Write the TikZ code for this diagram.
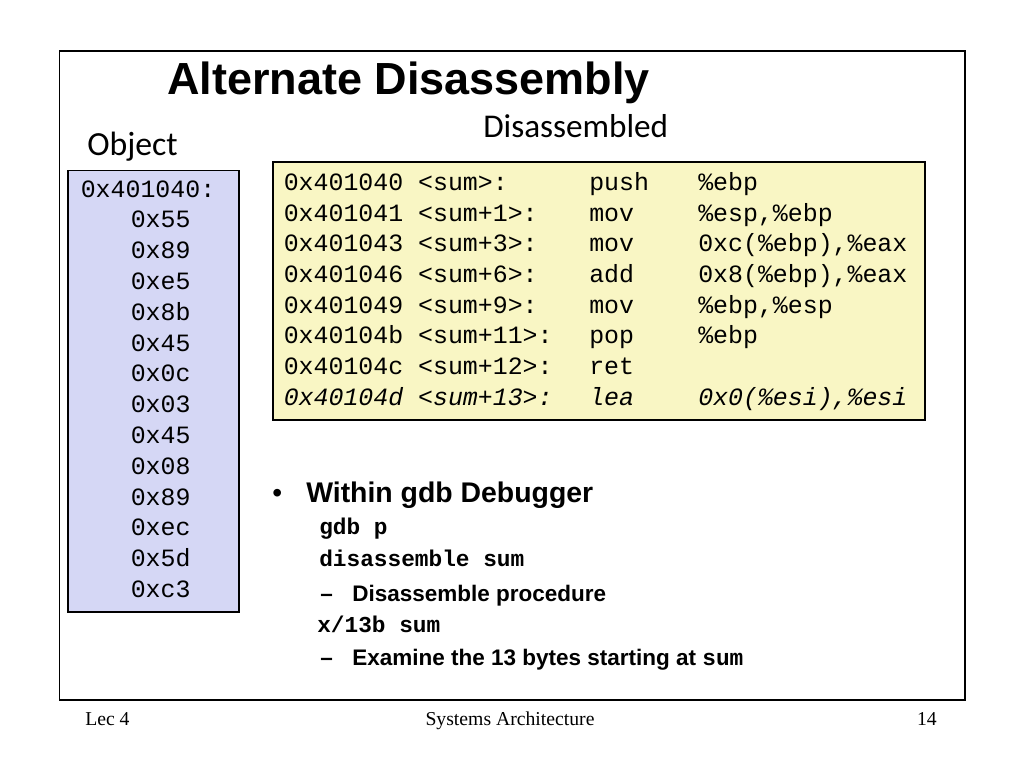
\documentclass[tikz,border=0pt]{standalone}
\usepackage{fontspec}
\setmainfont{Liberation Serif}
\setsansfont{Liberation Sans}
\setmonofont{Liberation Mono}
\newfontfamily\calibri{Carlito}
\definecolor{objfill}{RGB}{213,215,245}
\definecolor{dasmfill}{RGB}{249,246,196}
\begin{document}
\begin{tikzpicture}[x=0.025cm, y=-0.025cm,
  txt/.style={anchor=base west, inner sep=0pt},
  mono/.style={txt, font=\ttfamily\fontsize{17.7}{20}\selectfont},
  cmd/.style={txt, font=\ttfamily\bfseries\fontsize{16.2}{19}\selectfont},
  item/.style={txt, font=\sffamily\bfseries\fontsize{16}{19}\selectfont},
  foot/.style={anchor=base, inner sep=0pt, font=\rmfamily\fontsize{14}{16}\selectfont}]
  \useasboundingbox (0,0) rectangle (1024,768);
  % Khung trang
  \draw[line width=1pt] (59.5,51) rectangle (965,700);
  % Tiêu đề
  \node[txt, font=\sffamily\bfseries\fontsize{32}{36}\selectfont] (title) at (167,95) {Alternate Disassembly};
  \node[txt, font=\calibri\fontsize{24}{28}\selectfont] (obj) at (87,156) {Object};
  \node[txt, font=\calibri\fontsize{23.6}{28}\selectfont] (dis) at (483,138) {Disassembled};
  % Mã máy
  \filldraw[fill=objfill, draw=black, line width=0.8pt] (68,170.5) rectangle (239,612);
  \node[mono] (start) at (80.5,197) {0x401040:};
  \foreach \b [count=\i] in {0x55,0x89,0xe5,0x8b,0x45,0x0c,0x03,0x45,0x08,0x89,0xec,0x5d,0xc3}
    \node[mono] (b\i) at (130.5,{197+30.8*\i}) {\b};
  % Mã dịch ngược
  \filldraw[fill=dasmfill, draw=black, line width=0.8pt] (273,162) rectangle (925,420);
  \foreach \adr/\lbl/\ins/\arg [count=\i from 0] in {
      0x401040/{<sum>:}/push/\%ebp,
      0x401041/{<sum+1>:}/mov/{\%esp,\%ebp},
      0x401043/{<sum+3>:}/mov/{0xc(\%ebp),\%eax},
      0x401046/{<sum+6>:}/add/{0x8(\%ebp),\%eax},
      0x401049/{<sum+9>:}/mov/{\%ebp,\%esp},
      0x40104b/{<sum+11>:}/pop/\%ebp,
      0x40104c/{<sum+12>:}/ret/{}}
  {
    \node[mono] (a\i) at (283.5,{190.3+30.7*\i}) {\adr\ \lbl};
    \node[mono] (m\i) at (589,{190.3+30.7*\i}) {\ins};
    \node[mono] (o\i) at (698,{190.3+30.7*\i}) {\arg};
  }
  \node[mono] (a7) at (283.5,405.2) {\itshape 0x40104d <sum+13>:};
  \node[mono] (m7) at (589,405.2) {\itshape lea};
  \node[mono] (o7) at (698,405.2) {\itshape 0x0(\%esi),\%esi};
  % Ghi chú gdb
  \node[txt, font=\sffamily\fontsize{20}{24}\selectfont] (dot) at (272,502) {•};
  \node[txt, font=\sffamily\bfseries\fontsize{20.2}{24}\selectfont] (gdb) at (306,502) {Within gdb Debugger};
  \node[cmd] (c1) at (319,534) {gdb p};
  \node[cmd] (c2) at (319,566) {disassemble sum};
  \node[item] (d1) at (320,601.7) {–};
  \node[item] (t1) at (352,601.7) {Disassemble procedure};
  \node[cmd] (c3) at (317,632) {x/13b sum};
  \node[item] (d2) at (320,665.7) {–};
  \node[item] (t2) at (352,665.7) {Examine the 13 bytes starting at {\ttfamily\fontsize{16.2}{19}\selectfont sum}};
  % Chân trang
  \node[foot, anchor=base west] (lec) at (85,725) {Lec 4};
  \node[foot] (course) at (510,725) {Systems Architecture};
  \node[foot, anchor=base east] (page) at (937,725) {14};
\end{tikzpicture}
\end{document}
